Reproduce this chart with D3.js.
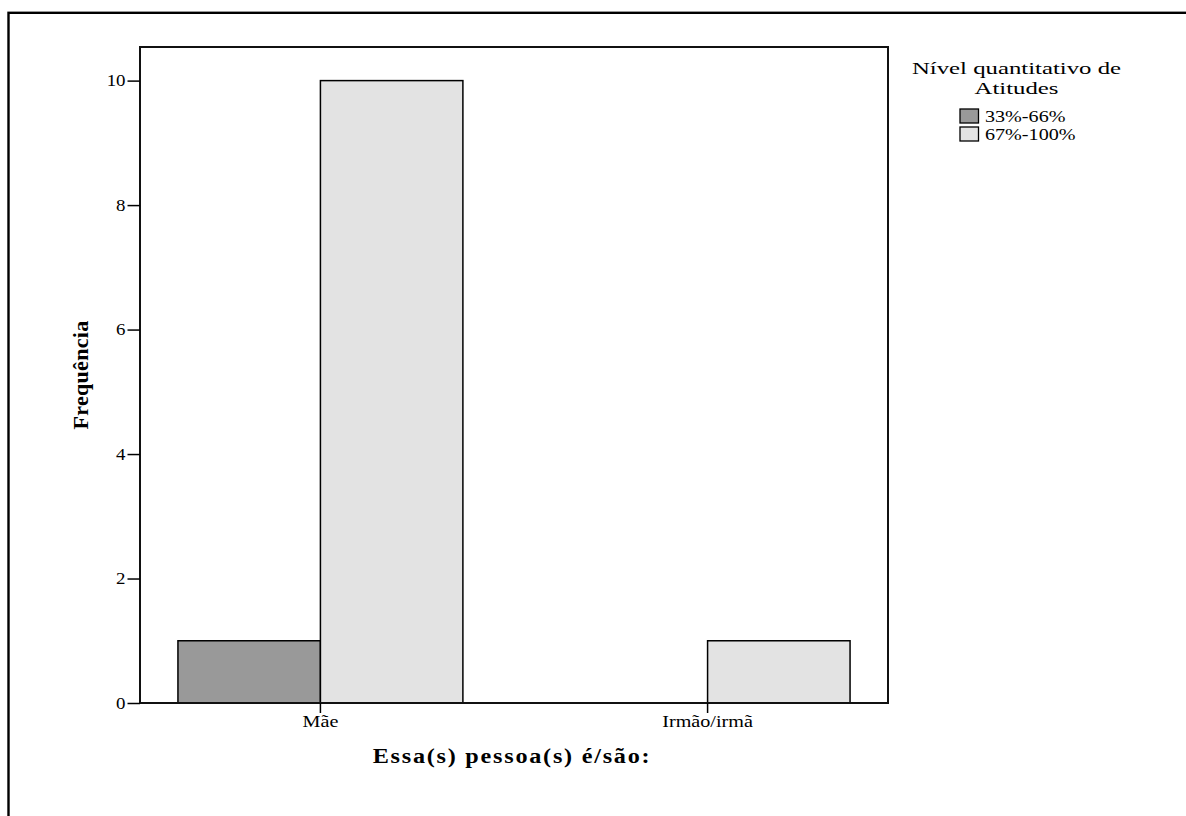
<!DOCTYPE html>
<html><head><meta charset="utf-8">
<script src="https://cdn.jsdelivr.net/npm/d3@7"></script>
<style>body{margin:0;background:#fff}svg{display:block}</style>
</head><body>
<script>
const categories = ["Mãe", "Irmão/irmã"];
const seriesNames = ["33%-66%", "67%-100%"];
const values33_66 = [1, 0];
const values67_100 = [10, 1];
const yTicks = [0, 2, 4, 6, 8, 10];
const colors = ["#999999", "#e3e3e3"];

const W = 1186, H = 816;
const svg = d3.select("body").append("svg").attr("width", W).attr("height", H);
const font = "'Liberation Serif','Times New Roman',serif";

function stext(g, x, y, s, str) {
  return g.append("text").attr("transform", `translate(${x},${y}) scale(${s},1)`)
    .attr("font-family", font).attr("fill", "#000").text(str);
}

// outer border
svg.append("rect").attr("x", 8.5).attr("y", 12.8).attr("width", 1200).attr("height", 900)
  .attr("fill", "none").attr("stroke", "#000").attr("stroke-width", 2.4);

const L = 140, R = 888, T = 47, B = 703;
const y = d3.scaleLinear().domain([0, 10.54]).range([B, T]);
const x = d3.scaleBand().domain(categories).range([L, R]).paddingInner(0.264).paddingOuter(0.098);
const xs = d3.scaleBand().domain(seriesNames).range([0, x.bandwidth()]);

const data = [];
categories.forEach((c, i) => {
  data.push({cat: c, s: seriesNames[0], v: values33_66[i], col: colors[0]});
  data.push({cat: c, s: seriesNames[1], v: values67_100[i], col: colors[1]});
});

svg.selectAll("rect.bar").data(data.filter(d => d.v > 0)).enter().append("rect")
  .attr("class", "bar")
  .attr("x", d => x(d.cat) + xs(d.s))
  .attr("y", d => y(d.v))
  .attr("width", xs.bandwidth())
  .attr("height", d => y(0) - y(d.v))
  .attr("fill", d => d.col).attr("stroke", "#000").attr("stroke-width", 1.5);

// frame
svg.append("rect").attr("x", L).attr("y", T).attr("width", R - L).attr("height", B - T)
  .attr("fill", "none").attr("stroke", "#111").attr("stroke-width", 2);

// y axis
const ya = svg.append("g").attr("transform", `translate(${L},0)`)
  .call(d3.axisLeft(y).tickValues(yTicks).tickSize(12.5).tickPadding(2).tickFormat(d3.format("d")));
ya.select(".domain").remove();
ya.selectAll("line").attr("stroke", "#000").attr("stroke-width", 1.5);
ya.selectAll("text").each(function() {
  const t = d3.select(this);
  const tx = +t.attr("x");
  t.attr("x", 0).attr("transform", `translate(${tx},0) scale(1.18,1)`);
}).attr("font-family", font).attr("font-size", 16).attr("fill", "#000");

// x axis
const xa = svg.append("g").attr("transform", `translate(0,${B})`)
  .call(d3.axisBottom(x).tickSize(10).tickPadding(3).offset(0));
xa.select(".domain").remove();
xa.selectAll(".tick").attr("transform", d => `translate(${x(d) + x.bandwidth() / 2},0)`);
xa.selectAll("line").attr("stroke", "#000").attr("stroke-width", 1.5);
xa.selectAll("text").each(function() {
  const t = d3.select(this);
  const ty = +t.attr("y");
  t.attr("y", 0).attr("transform", `translate(0,${ty}) scale(1.26,1)`);
}).attr("font-family", font).attr("font-size", 16).attr("fill", "#000");

// axis titles
svg.append("text").attr("transform", `translate(88,375) rotate(-90)`)
  .attr("text-anchor", "middle").attr("font-family", font).attr("font-weight", "bold")
  .attr("font-size", 22).attr("letter-spacing", 0.3).text("Frequência");
stext(svg, 512, 763, 1.1, "Essa(s) pessoa(s) é/são:")
  .attr("text-anchor", "middle").attr("font-weight", "bold").attr("font-size", 22)
  .attr("letter-spacing", 1.6);

// legend
const lg = svg.append("g");
stext(lg, 1016.5, 74, 1.457, "Nível quantitativo de").attr("text-anchor", "middle").attr("font-size", 17);
stext(lg, 1016.5, 93.5, 1.457, "Atitudes").attr("text-anchor", "middle").attr("font-size", 17);
seriesNames.forEach((s, i) => {
  const yy = 109 + i * 18;
  lg.append("rect").attr("x", 960).attr("y", yy).attr("width", 18.5).attr("height", 14)
    .attr("fill", colors[i]).attr("stroke", "#000").attr("stroke-width", 1.3);
  stext(lg, 985, yy + 12.7, 1.22, s).attr("font-size", 16.5);
});
</script>
</body></html>
